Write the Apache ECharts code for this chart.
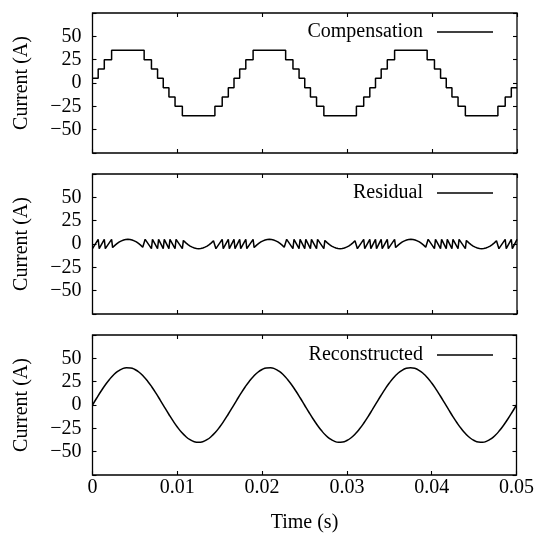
<!DOCTYPE html>
<html><head><meta charset="utf-8">
<script src="https://cdn.jsdelivr.net/npm/echarts@6/dist/echarts.min.js"></script>
<style>html,body{margin:0;padding:0;background:#fff}#c{width:537px;height:534px}</style>
</head><body><div id="c"></div>
<script>
// ---- data ----
const seriesNames = ['Compensation', 'Residual', 'Reconstructed'];
const xAxisName = 'Time (s)';
const yAxisName = 'Current (A)';
const xTickLabels = ['0', '0.01', '0.02', '0.03', '0.04', '0.05'];
const yTickLabels = ['', '\u221250', '\u221225', '0', '25', '50', ''];

// sample times (s) for the reconstructed current
const timeSec = [0,0.0005,0.001,0.0015,0.002,0.0025,0.003,0.0035,0.004,0.0045,
0.005,0.0055,0.006,0.0065,0.007,0.0075,0.008,0.0085,0.009,0.0095,
0.01,0.0105,0.011,0.0115,0.012,0.0125,0.013,0.0135,0.014,0.0145,
0.015,0.0155,0.016,0.0165,0.017,0.0175,0.018,0.0185,0.019,0.0195,
0.02,0.0205,0.021,0.0215,0.022,0.0225,0.023,0.0235,0.024,0.0245,
0.025,0.0255,0.026,0.0265,0.027,0.0275,0.028,0.0285,0.029,0.0295,
0.03,0.0305,0.031,0.0315,0.032,0.0325,0.033,0.0335,0.034,0.0345,
0.035,0.0355,0.036,0.0365,0.037,0.0375,0.038,0.0385,0.039,0.0395,
0.04,0.0405,0.041,0.0415,0.042,0.0425,0.043,0.0435,0.044,0.0445,
0.045,0.0455,0.046,0.0465,0.047,0.0475,0.048,0.0485,0.049,0.0495,0.05];

// reconstructed current (A)
const reconstructed = [0,7.5,14.7,21.4,27.4,32.4,36.2,38.7,39.9,39.7,
38.0,35.1,30.8,25.5,19.3,12.4,5.0,-2.5,-9.9,-17.0,
-23.5,-29.2,-33.8,-37.2,-39.3,-40.0,-39.3,-37.2,-33.8,-29.2,
-23.5,-17.0,-9.9,-2.5,5.0,12.4,19.3,25.5,30.8,35.1,
38.0,39.7,39.9,38.7,36.2,32.4,27.4,21.4,14.7,7.5,
0,-7.5,-14.7,-21.4,-27.4,-32.4,-36.2,-38.7,-39.9,-39.7,
-38.0,-35.1,-30.8,-25.5,-19.3,-12.4,-5.0,2.5,9.9,17.0,
23.5,29.2,33.8,37.2,39.3,40.0,39.3,37.2,33.8,29.2,
23.5,17.0,9.9,2.5,-5.0,-12.4,-19.3,-25.5,-30.8,-35.1,
-38.0,-39.7,-39.9,-38.7,-36.2,-32.4,-27.4,-21.4,-14.7,-7.5,0];

// compensation staircase: [time of step, level held until next step]
const compensation = [
[0,5],[0.00067,15],[0.001389,25],[0.00225,35],[0.006083,25],[0.006944,15],[0.007663,5],
[0.008333,-5],[0.009003,-15],[0.009722,-25],[0.010583,-35],[0.014417,-25],[0.015278,-15],[0.015997,-5],
[0.016667,5],[0.017337,15],[0.018056,25],[0.018917,35],[0.02275,25],[0.023611,15],[0.02433,5],
[0.025,-5],[0.02567,-15],[0.026389,-25],[0.02725,-35],[0.031083,-25],[0.031944,-15],[0.032663,-5],
[0.033333,5],[0.034003,15],[0.034722,25],[0.035583,35],[0.039417,25],[0.040278,15],[0.040997,5],
[0.041667,-5],[0.042337,-15],[0.043056,-25],[0.043917,-35],[0.04775,-25],[0.048611,-15],[0.04933,-5],[0.05,-5]];

// residual current: [time, value]
const residual = [
[0,-5],[0.00067,5],[0.00079,-5],[0.001389,5],[0.001509,-5],[0.00225,5],[0.00237,-3.8],
[0.002667,-1.2],[0.002917,0.6],[0.003167,2.2],[0.003417,3.4],[0.003667,4.3],[0.003917,4.8],[0.004167,5],
[0.004417,4.8],[0.004667,4.3],[0.004917,3.4],[0.005167,2.2],[0.005417,0.6],[0.005667,-1.2],[0.005917,-3.4],[0.006083,-5],
[0.006203,5],[0.006944,-5],[0.007064,5],[0.007663,-5],[0.007783,5],[0.008333,-5],[0.008453,5],
[0.009003,-5],[0.009123,5],[0.009722,-5],[0.009842,5],[0.010583,-5],[0.010703,3.8],
[0.011,1.2],[0.01125,-0.6],[0.0115,-2.2],[0.01175,-3.4],[0.012,-4.3],[0.01225,-4.8],[0.0125,-5],
[0.01275,-4.8],[0.013,-4.3],[0.01325,-3.4],[0.0135,-2.2],[0.01375,-0.6],[0.014,1.2],[0.01425,3.4],[0.014417,5],
[0.014537,-5],[0.015278,5],[0.015398,-5],[0.015997,5],[0.016117,-5],[0.016667,5],[0.016787,-5],
[0.017337,5],[0.017457,-5],[0.018056,5],[0.018176,-5],[0.018917,5],[0.019037,-3.8],
[0.019333,-1.2],[0.019583,0.6],[0.019833,2.2],[0.020083,3.4],[0.020333,4.3],[0.020583,4.8],[0.020833,5],
[0.021083,4.8],[0.021333,4.3],[0.021583,3.4],[0.021833,2.2],[0.022083,0.6],[0.022333,-1.2],[0.022583,-3.4],[0.02275,-5],
[0.02287,5],[0.023611,-5],[0.023731,5],[0.02433,-5],[0.02445,5],[0.025,-5],[0.02512,5],
[0.02567,-5],[0.02579,5],[0.026389,-5],[0.026509,5],[0.02725,-5],[0.02737,3.8],
[0.027667,1.2],[0.027917,-0.6],[0.028167,-2.2],[0.028417,-3.4],[0.028667,-4.3],[0.028917,-4.8],[0.029167,-5],
[0.029417,-4.8],[0.029667,-4.3],[0.029917,-3.4],[0.030167,-2.2],[0.030417,-0.6],[0.030667,1.2],[0.030917,3.4],[0.031083,5],
[0.031203,-5],[0.031944,5],[0.032064,-5],[0.032663,5],[0.032783,-5],[0.033333,5],[0.033453,-5],
[0.034003,5],[0.034123,-5],[0.034722,5],[0.034842,-5],[0.035583,5],[0.035703,-3.8],
[0.036,-1.2],[0.03625,0.6],[0.0365,2.2],[0.03675,3.4],[0.037,4.3],[0.03725,4.8],[0.0375,5],
[0.03775,4.8],[0.038,4.3],[0.03825,3.4],[0.0385,2.2],[0.03875,0.6],[0.039,-1.2],[0.03925,-3.4],[0.039417,-5],
[0.039537,5],[0.040278,-5],[0.040398,5],[0.040997,-5],[0.041117,5],[0.041667,-5],[0.041787,5],
[0.042337,-5],[0.042457,5],[0.043056,-5],[0.043176,5],[0.043917,-5],[0.044037,3.8],
[0.044333,1.2],[0.044583,-0.6],[0.044833,-2.2],[0.045083,-3.4],[0.045333,-4.3],[0.045583,-4.8],[0.045833,-5],
[0.046083,-4.8],[0.046333,-4.3],[0.046583,-3.4],[0.046833,-2.2],[0.047083,-0.6],[0.047333,1.2],[0.047583,3.4],[0.04775,5],
[0.04787,-5],[0.048611,5],[0.048731,-5],[0.04933,5],[0.04945,-5],[0.05,5]];

// ---- chart ----
const FONT = 'Liberation Serif';
const BLACK = '#000';
const gridTops = [13, 174, 335];
const legendTops = [22, 183, 345];

const grid = gridTops.map(t => ({
  left: 92.5, right: 20, top: t, height: 140,
  show: true, borderColor: BLACK, borderWidth: 1.3, backgroundColor: 'transparent'
}));

const tick = { show: true, inside: true, length: 4, lineStyle: { color: BLACK, width: 1.1 } };
const noLine = { show: false, onZero: false };
const xAxis = [];
const yAxis = [];
for (let i = 0; i < 3; i++) {
  xAxis.push({
    gridIndex: i, type: 'value', min: 0, max: 0.05, interval: 0.01, position: 'bottom',
    axisLine: noLine, axisTick: tick, splitLine: { show: false },
    axisLabel: {
      show: i === 2, color: BLACK, fontFamily: FONT, fontSize: 20, margin: 3,
      formatter: v => xTickLabels[Math.round(v / 0.01)]
    },
    name: i === 2 ? xAxisName : '', nameLocation: 'middle', nameGap: 38,
    nameTextStyle: { color: BLACK, fontFamily: FONT, fontSize: 20 }
  });
  yAxis.push({
    gridIndex: i, type: 'value', min: -75, max: 75, interval: 25, position: 'left',
    axisLine: noLine, axisTick: tick, splitLine: { show: false },
    axisLabel: {
      color: BLACK, fontFamily: FONT, fontSize: 20, margin: 11,
      formatter: v => yTickLabels[Math.round((v + 75) / 25)]
    },
    name: yAxisName, nameLocation: 'middle', nameGap: 61, nameRotate: 90,
    nameTextStyle: { color: BLACK, fontFamily: FONT, fontSize: 20 }
  });
}
for (let i = 0; i < 3; i++) {
  xAxis.push({
    gridIndex: i, type: 'value', min: 0, max: 0.05, interval: 0.01, position: 'top',
    axisLine: noLine, axisTick: tick, splitLine: { show: false }, axisLabel: { show: false }
  });
  yAxis.push({
    gridIndex: i, type: 'value', min: -75, max: 75, interval: 25, position: 'right',
    axisLine: noLine, axisTick: tick, splitLine: { show: false }, axisLabel: { show: false }
  });
}

const lineStyle = { color: BLACK, width: 1.5 };
const series = [
  { name: seriesNames[0], type: 'line', xAxisIndex: 0, yAxisIndex: 0, data: compensation, step: 'end',
    symbol: 'none', lineStyle, itemStyle: { color: BLACK } },
  { name: seriesNames[1], type: 'line', xAxisIndex: 1, yAxisIndex: 1, data: residual,
    symbol: 'none', lineStyle, itemStyle: { color: BLACK } },
  { name: seriesNames[2], type: 'line', xAxisIndex: 2, yAxisIndex: 2,
    data: timeSec.map((t, k) => [t, reconstructed[k]]), smooth: true,
    symbol: 'none', lineStyle, itemStyle: { color: BLACK } }
];

const legend = seriesNames.map((n, i) => ({
  data: [{ name: n, icon: 'rect' }], top: legendTops[i], right: 44, align: 'right', orient: 'horizontal',
  itemWidth: 56, itemHeight: 1.5, selectedMode: false, padding: 0,
  itemStyle: { color: BLACK, borderWidth: 0 },
  textStyle: { color: BLACK, fontFamily: FONT, fontSize: 20, padding: [0, 9, 0, 0] }
}));

const chart = echarts.init(document.getElementById('c'), null, { renderer: 'canvas' });
chart.setOption({ animation: false, backgroundColor: '#fff', grid, xAxis, yAxis, series, legend });
</script></body></html>
